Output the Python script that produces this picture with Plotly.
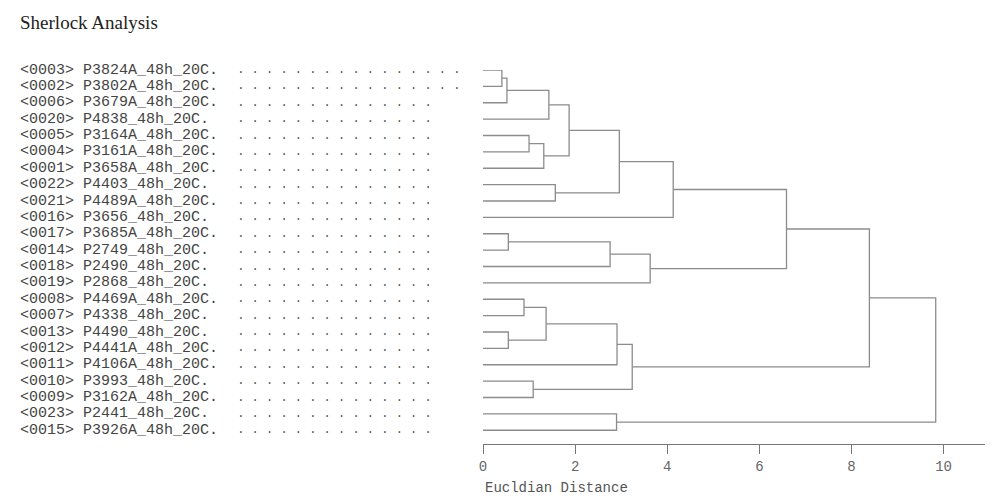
import plotly.graph_objects as go

# leaves in displayed order (top to bottom)
ids = ['0003', '0002', '0006', '0020', '0005', '0004', '0001', '0022', '0021', '0016',
       '0017', '0014', '0018', '0019', '0008', '0007', '0013', '0012', '0011', '0010',
       '0009', '0023', '0015']
strains = ['P3824A', 'P3802A', 'P3679A', 'P4838', 'P3164A', 'P3161A', 'P3658A', 'P4403',
           'P4489A', 'P3656', 'P3685A', 'P2749', 'P2490', 'P2868', 'P4469A', 'P4338',
           'P4490', 'P4441A', 'P4106A', 'P3993', 'P3162A', 'P2441', 'P3926A']

# merges: (node a, node b, distance); new nodes numbered from 23 upward
merges = [
    (0, 1, 0.41),    # 23
    (23, 2, 0.52),   # 24
    (24, 3, 1.43),   # 25
    (4, 5, 1.00),    # 26
    (26, 6, 1.32),   # 27
    (25, 27, 1.87),  # 28
    (7, 8, 1.57),    # 29
    (28, 29, 2.96),  # 30
    (30, 9, 4.13),   # 31
    (10, 11, 0.55),  # 32
    (32, 12, 2.76),  # 33
    (33, 13, 3.63),  # 34
    (31, 34, 6.59),  # 35
    (14, 15, 0.89),  # 36
    (16, 17, 0.55),  # 37
    (36, 37, 1.37),  # 38
    (38, 18, 2.91),  # 39
    (19, 20, 1.09),  # 40
    (39, 40, 3.24),  # 41
    (35, 41, 8.39),  # 42
    (21, 22, 2.90),  # 43
    (42, 43, 9.83),  # 44
]

n = len(ids)
pos = {i: (0.0, float(i)) for i in range(n)}
xs, ys = [], []
for k, (a, b, h) in enumerate(merges):
    xa, ya = pos[a]
    xb, yb = pos[b]
    xs += [xa, h, h, xb, None]
    ys += [ya, ya, yb, yb, None]
    pos[n + k] = (h, (ya + yb) / 2)

fig = go.Figure()
fig.add_trace(go.Scatter(x=xs, y=ys, mode='lines', line=dict(color='#8c8c8c', width=1.3),
                         hoverinfo='skip', showlegend=False, cliponaxis=False))

plot_w = 1005 - 475 - 28
lab_font = dict(family='Liberation Mono, Courier New, monospace', size=15, color='#444')
for i in range(n):
    txt = '&lt;%s&gt; %s_48h_20C.' % (ids[i], strains[i])
    fig.add_annotation(x=-(483 - 18) / plot_w, xref='paper', y=i, yref='y', text=txt,
                       showarrow=False, xanchor='left', font=lab_font)
    ndots = 16 if i < 2 else 14
    fig.add_annotation(x=-(483 - 228) / plot_w, xref='paper', y=i, yref='y', text=' .' * ndots,
                       showarrow=False, xanchor='left',
                       font=dict(family='Liberation Mono, monospace', size=12, color='#555'))

fig.update_layout(
    width=1005, height=498,
    margin=dict(l=475, r=28, t=62, b=62),
    paper_bgcolor='white', plot_bgcolor='white',
    title=dict(text='Sherlock Analysis', x=0.012, y=0.985, xanchor='left', yanchor='top',
               font=dict(family='Liberation Serif, Times New Roman, serif', size=19, color='#222')),
    xaxis=dict(range=[0, 10.9], tickvals=[0, 2, 4, 6, 8, 10], showgrid=False, zeroline=False,
               showline=True, linecolor='#777', ticks='outside', ticklen=9, tickcolor='#777',
               tickfont=dict(family='Liberation Mono, monospace', size=14, color='#666')),
    yaxis=dict(range=[22.84, 0], visible=False, showgrid=False, zeroline=False),
)
fig.add_annotation(x=0, xref='x', y=-0.09, yref='paper', text='Eucldian Distance', showarrow=False,
                   xanchor='left', yanchor='top',
                   font=dict(family='Liberation Mono, monospace', size=14, color='#555'))

fig.write_html('out.html')
